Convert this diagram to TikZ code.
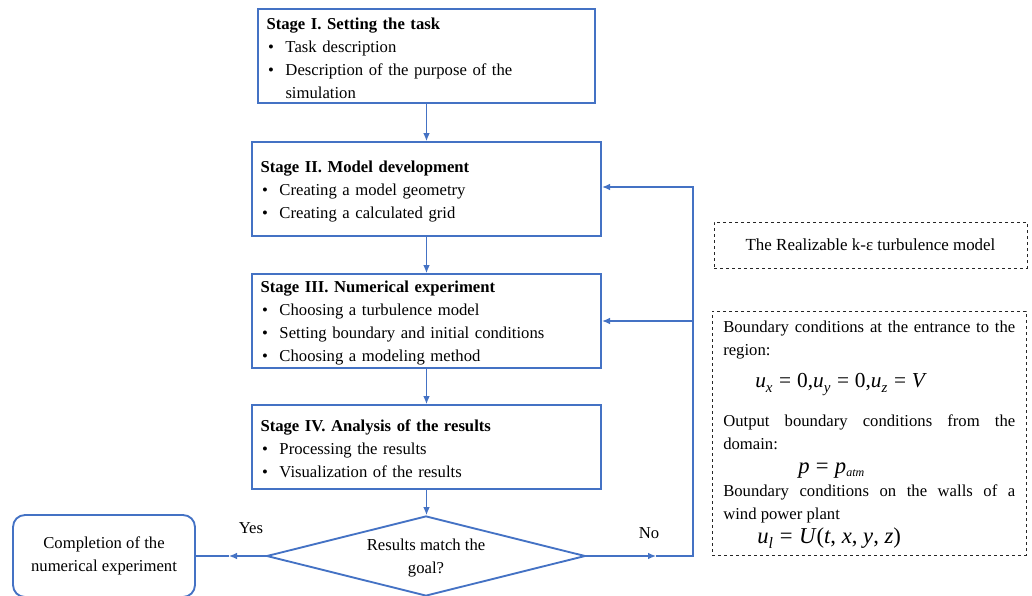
\documentclass[tikz,border=0pt]{standalone}
\usepackage{fontspec}
\setmainfont{Liberation Serif}
\usetikzlibrary{arrows.meta,shapes.geometric}
\definecolor{flowblue}{RGB}{68,114,196}
\newcommand\bitem[1]{\makebox[14.25pt][l]{\hspace{1.2pt}\textbullet}#1}
\newcommand\bcont[1]{\hspace*{14.25pt}#1}
\newcommand\toppad{\rule{0pt}{12pt}}
\begin{document}
\begin{tikzpicture}[x=0.75pt,y=-0.75pt,
  stagebox/.style={draw=flowblue, line width=1.4pt, rectangle, inner xsep=6.5pt, inner ysep=0pt,
    align=left, font=\fontsize{12.5}{17.25}\selectfont, minimum height=70.5pt},
  conn/.style={draw=flowblue, line width=0.9pt},
  tip/.style={-{Latex[length=6pt,width=5pt]}},
  lbl/.style={font=\fontsize{12.5}{14}\selectfont, inner sep=0pt},
  dashbox/.style={draw=black!85, line width=0.7pt, dash pattern=on 2.6pt off 1.9pt, rectangle, inner sep=0pt},
  txt/.style={font=\fontsize{12.5}{14}\selectfont, inner sep=0pt, anchor=base west}
]
\useasboundingbox (0,0) rectangle (1032,596);

% stages
\node[stagebox, text width=240pt] (s1) at (426.5,56)
  {\toppad\textbf{Stage I. Setting the task}\\
   \bitem{Task description}\\
   \bitem{Description of the purpose of the}\\
   \bcont{simulation}};
\node[stagebox, text width=249pt] (s2) at (426.5,189)
  {\toppad\textbf{Stage II. Model development}\\
   \bitem{Creating a model geometry}\\
   \bitem{Creating a calculated grid}};
\node[stagebox, text width=249pt] (s3) at (426.5,321)
  {\toppad\textbf{Stage III. Numerical experiment}\\
   \bitem{Choosing a turbulence model}\\
   \bitem{Setting boundary and initial conditions}\\
   \bitem{Choosing a modeling method}};
\node[stagebox, text width=249pt, minimum height=63pt] (s4) at (426.5,447)
  {\toppad\textbf{Stage IV. Analysis of the results}\\
   \bitem{Processing the results}\\
   \bitem{Visualization of the results}};

% decision
\node[diamond, draw=flowblue, line width=1.4pt, aspect=4, inner sep=0pt,
  minimum width=239pt, minimum height=60pt, align=center,
  font=\fontsize{12.5}{17.25}\selectfont] (dia) at (426,556)
  {\toppad Results match the\\goal?};

% completion
\node[draw=flowblue, line width=1.4pt, rounded corners=9pt, minimum width=136.5pt,
  minimum height=61.5pt, align=center, font=\fontsize{12.5}{17.25}\selectfont] (done) at (104,556)
  {Completion of the\\numerical experiment};

% main flow
\draw[conn,tip] (s1.south) -- (s2.north);
\draw[conn,tip] (s2.south) -- (s3.north);
\draw[conn,tip] (s3.south) -- (s4.north);
\draw[conn,tip] (s4.south) -- (s4.south |- dia.north);

% yes branch
\coordinate (yesmid) at (229,556);
\draw[conn,tip] (dia.west) -- (yesmid);
\draw[conn] (yesmid) -- (done.east);
\node[lbl] (yes) at (251,528) {Yes};

% no branch / feedback
\coordinate (nomid) at (656,556);
\coordinate (c1) at (693,556);
\coordinate (c2) at (693,187);
\coordinate (c3) at (693,321);
\draw[conn,tip] (dia.east) -- (nomid);
\draw[conn,tip] (nomid) -- (c1) -- (c2) -- (s2.east |- c2);
\draw[conn,tip] (c3) -- (s3.east |- c3);
\node[lbl] (no) at (649,533) {No};

% turbulence model box
\node[dashbox, minimum width=234.75pt, minimum height=34.5pt,
  font=\fontsize{12.7}{14}\selectfont] (tm) at (870.5,245) {The Realizable k-ε turbulence model};

% boundary conditions box
\node[dashbox, minimum width=235.5pt, minimum height=183pt] (bc) at (869,433) {};
\node[txt] (l1) at (723,332) {\makebox[219pt][s]{Boundary conditions at the entrance to the}};
\node[txt] (l2) at (723,355) {region:};
\node[txt, font=\fontsize{16}{18}\selectfont] (f1) at (755,387)
  {\textit{u}\raisebox{-1.5pt}{\textsubscript{\textit{x}}}\;=\;0,\textit{u}\raisebox{-1.5pt}{\textsubscript{\textit{y}}}\;=\;0,\textit{u}\raisebox{-1.5pt}{\textsubscript{\textit{z}}}\;=\;\textit{V}};
\node[txt] (l3) at (723,426) {\makebox[219pt][s]{Output boundary conditions from the}};
\node[txt] (l4) at (723,449) {domain:};
\node[txt, font=\fontsize{17}{19}\selectfont] (f2) at (798,473)
  {\textit{p}\;=\;\textit{p}\raisebox{-2.5pt}{\fontsize{9}{10}\selectfont\textit{atm}}};
\node[txt] (l5) at (723,496) {\makebox[219pt][s]{Boundary conditions on the walls of a}};
\node[txt] (l6) at (723,519) {wind power plant};
\node[txt, font=\fontsize{17}{19}\selectfont] (f3) at (757,543)
  {\textit{u}\raisebox{-1.5pt}{\textsubscript{\textit{l}}}\;=\;\textit{U}(\textit{t}, \textit{x}, \textit{y}, \textit{z})};
\end{tikzpicture}
\end{document}
